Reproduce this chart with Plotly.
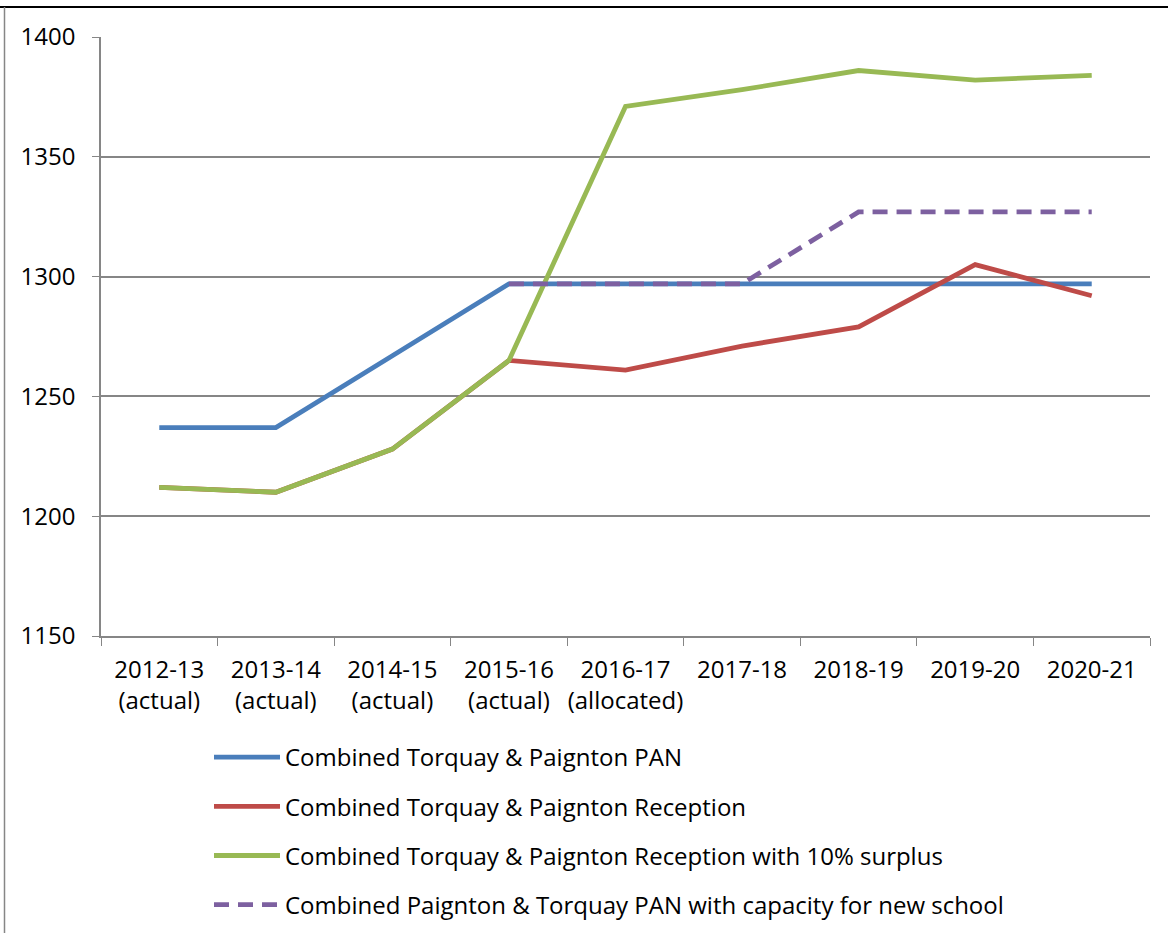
import plotly.graph_objects as go

categories = ["2012-13<br>(actual)", "2013-14<br>(actual)", "2014-15<br>(actual)",
              "2015-16<br>(actual)", "2016-17<br>(allocated)", "2017-18",
              "2018-19", "2019-20", "2020-21"]

pan = [1237, 1237, 1267, 1297, 1297, 1297, 1297, 1297, 1297]
reception = [1212, 1210, 1228, 1265, 1261, 1271, 1279, 1305, 1292]
reception_surplus = [1212, 1210, 1228, 1265, 1371, 1378, 1386, 1382, 1384]
pan_new_school = [None, None, None, 1297, 1297, 1297, 1327, 1327, 1327]

names = ["Combined Torquay & Paignton PAN",
         "Combined Torquay & Paignton Reception",
         "Combined Torquay & Paignton Reception with 10% surplus",
         "Combined Paignton & Torquay PAN with capacity for new school"]

y_ticks = [1150, 1200, 1250, 1300, 1350, 1400]

W, H = 1168, 933
L, R, T, B = 101, 18, 37, 297

fig = go.Figure()
series = [
    (pan, "#4A7EBB", "solid"),
    (reception, "#BE4B48", "solid"),
    (reception_surplus, "#98B954", "solid"),
    (pan_new_school, "#7D60A0", "15px,9px"),
]
for i, (vals, col, dash) in enumerate(series):
    fig.add_trace(go.Scatter(
        x=categories, y=vals, mode="lines", name=names[i],
        legendgroup=f"g{i}",
        line=dict(color=col, width=4.8, dash=dash),
        connectgaps=False,
    ))

pw = W - L - R
ph = H - T - B

def px_x(p):
    return (p - L) / pw

def px_y(p):
    return (H - B - p) / ph

FS = 24

fig.update_layout(
    width=W, height=H,
    margin=dict(l=L, r=R, t=T, b=B, pad=0, autoexpand=False),
    paper_bgcolor="white", plot_bgcolor="white",
    font=dict(family="Open Sans, Liberation Sans, sans-serif", size=FS, color="black"),
    showlegend=True,
    legend=dict(
        x=px_x(209), y=px_y(735), xanchor="left", yanchor="top",
        orientation="v", tracegroupgap=15, itemwidth=66,
        font=dict(size=FS, color="black"),
        bgcolor="rgba(0,0,0,0)",
    ),
    xaxis=dict(
        type="category", showgrid=False, showline=True, linecolor="#868686",
        linewidth=1.5, ticks="outside", ticklen=8, tickcolor="#868686",
        tickson="boundaries", tickfont=dict(size=FS), zeroline=False,
        range=[-0.5, 8.5], ticklabelstandoff=11, tickangle=0, automargin=False,
    ),
    yaxis=dict(
        range=[1150, 1400], tickvals=y_ticks, showgrid=True, gridcolor="#868686",
        gridwidth=1.5, showline=True, linecolor="#868686", linewidth=1.5,
        ticks="outside", ticklen=7, tickcolor="#868686", zeroline=False,
        tickfont=dict(size=FS), ticklabelstandoff=12, automargin=False,
    ),
    shapes=[
        dict(type="line", xref="paper", yref="paper", x0=px_x(0), x1=px_x(W),
             y0=px_y(7), y1=px_y(7), line=dict(color="black", width=2)),
        dict(type="line", xref="paper", yref="paper", x0=px_x(4.5), x1=px_x(4.5),
             y0=px_y(7), y1=px_y(H), line=dict(color="#868686", width=1.5)),
    ],
)

fig.write_html("out.html", config={"displayModeBar": False},
               post_script="document.body.style.margin='0px';")
